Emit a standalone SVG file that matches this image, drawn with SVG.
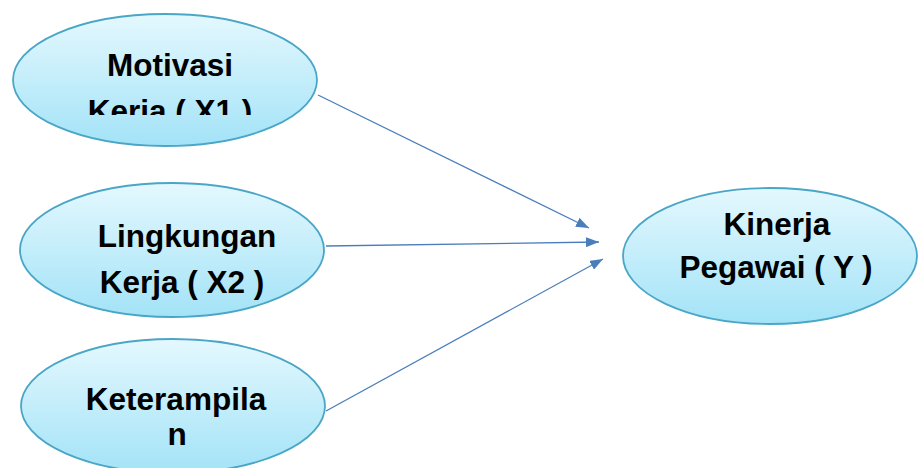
<svg xmlns="http://www.w3.org/2000/svg" width="919" height="468" viewBox="0 0 919 468">
<defs>
<linearGradient id="g" x1="0" y1="0" x2="0" y2="1">
<stop offset="0" stop-color="#e4f8fe"/>
<stop offset="1" stop-color="#a3e3f7"/>
</linearGradient>
<marker id="ah" markerWidth="13" markerHeight="10" refX="13" refY="5" orient="auto" markerUnits="userSpaceOnUse">
<path d="M0,0 L13,5 L0,10 z" fill="#4a7ebb"/>
</marker>
<clipPath id="c1"><rect x="0" y="0" width="330" height="115"/></clipPath>
</defs>
<style>
.n{fill:url(#g);stroke:#4aa6c6;stroke-width:1.8}
.t{font-family:"Liberation Sans",Arial,sans-serif;font-weight:bold;font-size:31.5px;fill:#000;text-anchor:middle}
.e{stroke:#4a7ebb;stroke-width:1.3;fill:none;marker-end:url(#ah)}
</style>
<g id="n1">
<ellipse class="n" cx="165" cy="80" rx="152" ry="66"/>
<text class="t" x="170" y="76">Motivasi</text>
<text class="t" x="170" y="122" clip-path="url(#c1)">Kerja ( X1 )</text>
</g>
<g id="n2">
<ellipse class="n" cx="172" cy="250" rx="152" ry="67"/>
<text class="t" x="187" y="247">Lingkungan</text>
<text class="t" x="182" y="293">Kerja ( X2 )</text>
</g>
<g id="n3">
<ellipse class="n" cx="173" cy="406" rx="152" ry="67"/>
<text class="t" x="176" y="410">Keterampila</text>
<text class="t" x="177" y="445">n</text>
</g>
<g id="n4">
<ellipse class="n" cx="770" cy="256" rx="147" ry="68"/>
<text class="t" x="777" y="235">Kinerja</text>
<text class="t" x="776" y="278">Pegawai ( Y )</text>
</g>
<g id="edges">
<line class="e" x1="318" y1="95" x2="589" y2="228"/>
<line class="e" x1="326" y1="246" x2="599" y2="242"/>
<line class="e" x1="326" y1="411" x2="603" y2="259"/>
</g>
</svg>
